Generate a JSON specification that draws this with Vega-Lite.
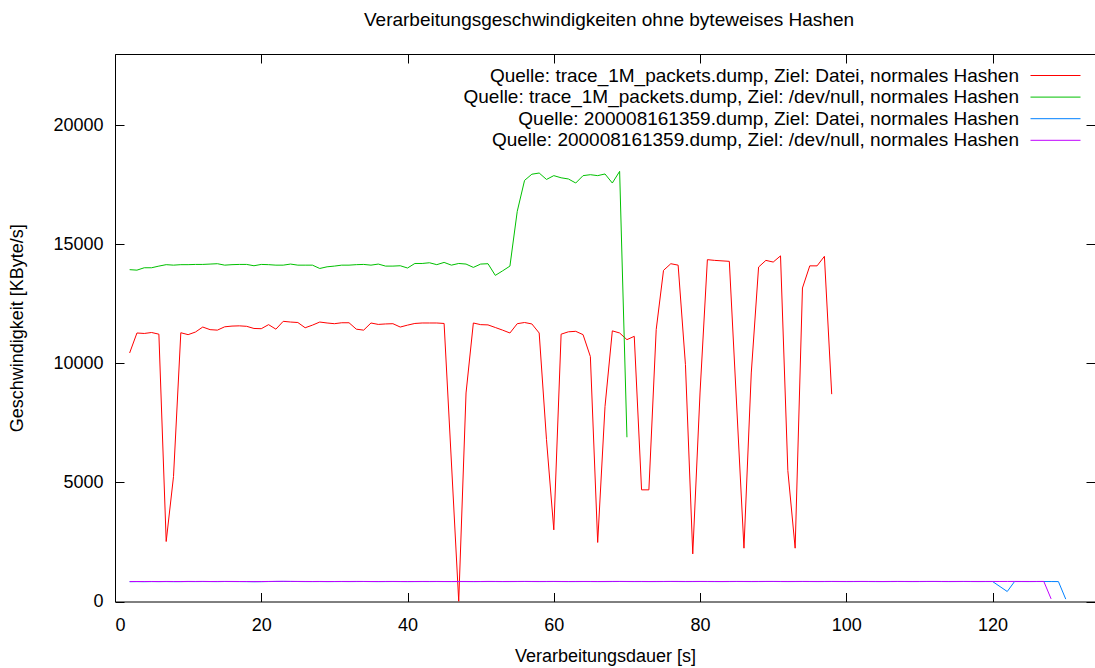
{
  "$schema": "https://vega.github.io/schema/vega-lite/v6.json",
  "width": 980,
  "height": 547.5,
  "autosize": {"type": "none"},
  "padding": {"left": 115, "top": 54, "right": 0, "bottom": 66.5},
  "background": "white",
  "config": {
    "view": {"stroke": null},
    "font": "Liberation Sans",
    "axis": {
      "grid": false,
      "domainColor": "black",
      "tickColor": "black",
      "labelColor": "black",
      "titleColor": "black",
      "labelFont": "Liberation Sans",
      "titleFont": "Liberation Sans",
      "labelFontSize": 18,
      "titleFontSize": 18,
      "titleFontWeight": "normal",
      "tickSize": -9,
      "domainWidth": 1,
      "tickWidth": 1
    }
  },
  "title": {
    "text": "Verarbeitungsgeschwindigkeiten ohne byteweises Hashen",
    "font": "Liberation Sans",
    "fontSize": 19,
    "fontWeight": "normal",
    "color": "black",
    "anchor": "middle",
    "frame": "group",
    "baseline": "alphabetic",
    "offset": 9,
    "dx": 4
  },
  "data": {
    "values": [
      {"x": 2, "a": 10440, "b": 13940, "c": 832, "d": 838},
      {"x": 3, "a": 11280, "b": 13920, "c": 834, "d": 840},
      {"x": 4, "a": 11260, "b": 14020, "c": 831, "d": 839},
      {"x": 5, "a": 11300, "b": 14020, "c": 835, "d": 841},
      {"x": 6, "a": 11230, "b": 14090, "c": 833, "d": 838},
      {"x": 7, "a": 2520, "b": 14150, "c": 836, "d": 842},
      {"x": 8, "a": 5250, "b": 14130, "c": 832, "d": 840},
      {"x": 9, "a": 11290, "b": 14150, "c": 834, "d": 838},
      {"x": 10, "a": 11210, "b": 14150, "c": 837, "d": 843},
      {"x": 11, "a": 11320, "b": 14160, "c": 835, "d": 841},
      {"x": 12, "a": 11530, "b": 14160, "c": 838, "d": 844},
      {"x": 13, "a": 11420, "b": 14175, "c": 836, "d": 840},
      {"x": 14, "a": 11400, "b": 14190, "c": 834, "d": 841},
      {"x": 15, "a": 11540, "b": 14130, "c": 839, "d": 843},
      {"x": 16, "a": 11570, "b": 14150, "c": 837, "d": 842},
      {"x": 17, "a": 11580, "b": 14160, "c": 835, "d": 840},
      {"x": 18, "a": 11560, "b": 14160, "c": 833, "d": 839},
      {"x": 19, "a": 11470, "b": 14105, "c": 830, "d": 836},
      {"x": 20, "a": 11460, "b": 14160, "c": 832, "d": 838},
      {"x": 21, "a": 11630, "b": 14150, "c": 838, "d": 842},
      {"x": 22, "a": 11440, "b": 14130, "c": 842, "d": 846},
      {"x": 23, "a": 11770, "b": 14130, "c": 844, "d": 847},
      {"x": 24, "a": 11740, "b": 14175, "c": 841, "d": 845},
      {"x": 25, "a": 11720, "b": 14130, "c": 839, "d": 843},
      {"x": 26, "a": 11500, "b": 14130, "c": 836, "d": 841},
      {"x": 27, "a": 11610, "b": 14130, "c": 835, "d": 840},
      {"x": 28, "a": 11740, "b": 13990, "c": 837, "d": 842},
      {"x": 29, "a": 11700, "b": 14060, "c": 834, "d": 839},
      {"x": 30, "a": 11670, "b": 14090, "c": 836, "d": 840},
      {"x": 31, "a": 11710, "b": 14130, "c": 838, "d": 842},
      {"x": 32, "a": 11710, "b": 14130, "c": 835, "d": 841},
      {"x": 33, "a": 11440, "b": 14150, "c": 837, "d": 843},
      {"x": 34, "a": 11400, "b": 14160, "c": 839, "d": 842},
      {"x": 35, "a": 11700, "b": 14130, "c": 836, "d": 840},
      {"x": 36, "a": 11640, "b": 14175, "c": 834, "d": 839},
      {"x": 37, "a": 11660, "b": 14090, "c": 836, "d": 841},
      {"x": 38, "a": 11670, "b": 14090, "c": 838, "d": 842},
      {"x": 39, "a": 11530, "b": 14105, "c": 836, "d": 840},
      {"x": 40, "a": 11610, "b": 14010, "c": 834, "d": 839},
      {"x": 41, "a": 11680, "b": 14200, "c": 835, "d": 840},
      {"x": 42, "a": 11700, "b": 14200, "c": 837, "d": 842},
      {"x": 43, "a": 11700, "b": 14230, "c": 836, "d": 841},
      {"x": 44, "a": 11700, "b": 14150, "c": 838, "d": 842},
      {"x": 45, "a": 11680, "b": 14245, "c": 836, "d": 840},
      {"x": 46, "b": 14130, "c": 835, "d": 840},
      {"x": 47, "a": 0, "b": 14200, "c": 837, "d": 842},
      {"x": 48, "a": 8760, "b": 14175, "c": 836, "d": 841},
      {"x": 49, "a": 11700, "b": 14035, "c": 834, "d": 839},
      {"x": 50, "a": 11630, "b": 14175, "c": 836, "d": 840},
      {"x": 51, "a": 11620, "b": 14190, "c": 838, "d": 843},
      {"x": 52, "a": 11510, "b": 13700, "c": 837, "d": 842},
      {"x": 53, "a": 11400, "b": 13890, "c": 835, "d": 840},
      {"x": 54, "a": 11280, "b": 14090, "c": 836, "d": 841},
      {"x": 55, "a": 11670, "b": 16390, "c": 838, "d": 842},
      {"x": 56, "a": 11720, "b": 17690, "c": 840, "d": 844},
      {"x": 57, "a": 11660, "b": 17950, "c": 838, "d": 842},
      {"x": 58, "a": 11280, "b": 18000, "c": 836, "d": 841},
      {"x": 59, "a": 6800, "b": 17730, "c": 837, "d": 842},
      {"x": 60, "a": 3010, "b": 17890, "c": 839, "d": 843},
      {"x": 61, "a": 11230, "b": 17800, "c": 837, "d": 841},
      {"x": 62, "a": 11330, "b": 17750, "c": 835, "d": 840},
      {"x": 63, "a": 11350, "b": 17580, "c": 836, "d": 841},
      {"x": 64, "a": 11210, "b": 17890, "c": 838, "d": 842},
      {"x": 65, "a": 10290, "b": 17930, "c": 837, "d": 841},
      {"x": 66, "a": 2480, "b": 17890, "c": 835, "d": 840},
      {"x": 67, "a": 8190, "b": 17960, "c": 836, "d": 841},
      {"x": 68, "a": 11370, "b": 17580, "c": 838, "d": 843},
      {"x": 69, "a": 11280, "b": 18070, "c": 840, "d": 844},
      {"x": 70, "a": 11000, "b": 6900, "c": 838, "d": 842},
      {"x": 71, "a": 11140, "c": 836, "d": 841},
      {"x": 72, "a": 4690, "c": 837, "d": 842},
      {"x": 73, "a": 4690, "c": 835, "d": 840},
      {"x": 74, "a": 11420, "c": 836, "d": 841},
      {"x": 75, "a": 13910, "c": 838, "d": 842},
      {"x": 76, "a": 14190, "c": 840, "d": 844},
      {"x": 77, "a": 14130, "c": 838, "d": 843},
      {"x": 78, "a": 9950, "c": 836, "d": 841},
      {"x": 79, "a": 2000, "c": 837, "d": 842},
      {"x": 80, "a": 8800, "c": 839, "d": 843},
      {"x": 81, "a": 14360, "c": 838, "d": 842},
      {"x": 82, "a": 14330, "c": 836, "d": 841},
      {"x": 83, "a": 14310, "c": 835, "d": 840},
      {"x": 84, "a": 14290, "c": 837, "d": 842},
      {"x": 85, "c": 839, "d": 843},
      {"x": 86, "a": 2240, "c": 838, "d": 842},
      {"x": 87, "a": 9600, "c": 836, "d": 841},
      {"x": 88, "a": 14050, "c": 837, "d": 842},
      {"x": 89, "a": 14330, "c": 839, "d": 843},
      {"x": 90, "a": 14260, "c": 840, "d": 844},
      {"x": 91, "a": 14520, "c": 838, "d": 842},
      {"x": 92, "a": 5500, "c": 836, "d": 841},
      {"x": 93, "a": 2240, "c": 837, "d": 842},
      {"x": 94, "a": 13170, "c": 839, "d": 843},
      {"x": 95, "a": 14100, "c": 838, "d": 842},
      {"x": 96, "a": 14100, "c": 836, "d": 841},
      {"x": 97, "a": 14500, "c": 837, "d": 842},
      {"x": 98, "a": 8710, "c": 839, "d": 843},
      {"x": 99, "c": 838, "d": 842},
      {"x": 100, "c": 836, "d": 841},
      {"x": 101, "c": 837, "d": 842},
      {"x": 102, "c": 839, "d": 843},
      {"x": 103, "c": 838, "d": 842},
      {"x": 104, "c": 836, "d": 841},
      {"x": 105, "c": 835, "d": 840},
      {"x": 106, "c": 837, "d": 842},
      {"x": 107, "c": 839, "d": 843},
      {"x": 108, "c": 838, "d": 842},
      {"x": 109, "c": 836, "d": 841},
      {"x": 110, "c": 837, "d": 842},
      {"x": 111, "c": 839, "d": 843},
      {"x": 112, "c": 840, "d": 844},
      {"x": 113, "c": 838, "d": 842},
      {"x": 114, "c": 836, "d": 841},
      {"x": 115, "c": 837, "d": 842},
      {"x": 116, "c": 839, "d": 843},
      {"x": 117, "c": 838, "d": 842},
      {"x": 118, "c": 836, "d": 841},
      {"x": 119, "c": 837, "d": 842},
      {"x": 120, "c": 838, "d": 842},
      {"x": 121, "d": 841},
      {"x": 122, "c": 420, "d": 842},
      {"x": 123, "c": 838, "d": 843},
      {"x": 124, "c": 837, "d": 842},
      {"x": 125, "c": 836, "d": 841},
      {"x": 126, "c": 838, "d": 842},
      {"x": 127, "c": 839, "d": 843},
      {"x": 128, "c": 838, "d": 110},
      {"x": 129, "c": 836},
      {"x": 130, "c": 100}
    ]
  },
  "transform": [{"fold": ["a", "b", "c", "d"], "as": ["s", "y"]}],
  "layer": [
    {
      "mark": {"type": "line", "strokeWidth": 1, "clip": true, "invalid": "filter"},
      "encoding": {
        "x": {
          "field": "x",
          "type": "quantitative",
          "scale": {"domain": [0, 134], "nice": false, "zero": false},
          "axis": {
            "orient": "bottom",
            "values": [0, 20, 40, 60, 80, 100, 120],
            "title": "Verarbeitungsdauer [s]",
            "labelPadding": 24,
            "titlePadding": 13
          }
        },
        "y": {
          "field": "y",
          "type": "quantitative",
          "scale": {"domain": [0, 23000], "nice": false, "zero": false},
          "axis": {
            "orient": "left",
            "values": [0, 5000, 10000, 15000, 20000],
            "format": "d",
            "title": "Geschwindigkeit [KByte/s]",
            "labelPadding": 21,
            "titlePadding": 26
          }
        },
        "color": {
          "field": "s",
          "type": "nominal",
          "scale": {"domain": ["a", "b", "c", "d"], "range": ["#ff0000", "#00c000", "#0080ff", "#c000ff"]},
          "legend": {
            "orient": "none",
            "legendX": 906,
            "legendY": 12,
            "title": null,
            "symbolType": "M0,0H25",
            "symbolSize": 16,
            "symbolStrokeWidth": 1,
            "labelAlign": "right",
            "labelOffset": -21,
            "labelFont": "Liberation Sans",
            "labelFontSize": 19,
            "labelColor": "black",
            "labelLimit": 0,
            "rowPadding": 1.6,
            "padding": 0,
            "labelExpr": "datum.value == 'a' ? 'Quelle: trace_1M_packets.dump, Ziel: Datei, normales Hashen' : datum.value == 'b' ? 'Quelle: trace_1M_packets.dump, Ziel: /dev/null, normales Hashen' : datum.value == 'c' ? 'Quelle: 200008161359.dump, Ziel: Datei, normales Hashen' : 'Quelle: 200008161359.dump, Ziel: /dev/null, normales Hashen'"
          }
        }
      }
    },
    {
      "mark": {"type": "point", "opacity": 0},
      "encoding": {
        "x": {
          "field": "x",
          "type": "quantitative",
          "axis": {
            "orient": "top",
            "values": [0, 20, 40, 60, 80, 100, 120],
            "labels": false,
            "title": null
          }
        },
        "y": {
          "field": "y",
          "type": "quantitative",
          "axis": {
            "orient": "right",
            "values": [0, 5000, 10000, 15000, 20000],
            "labels": false,
            "domain": false,
            "title": null
          }
        }
      }
    }
  ],
  "resolve": {"axis": {"x": "independent", "y": "independent"}}
}
